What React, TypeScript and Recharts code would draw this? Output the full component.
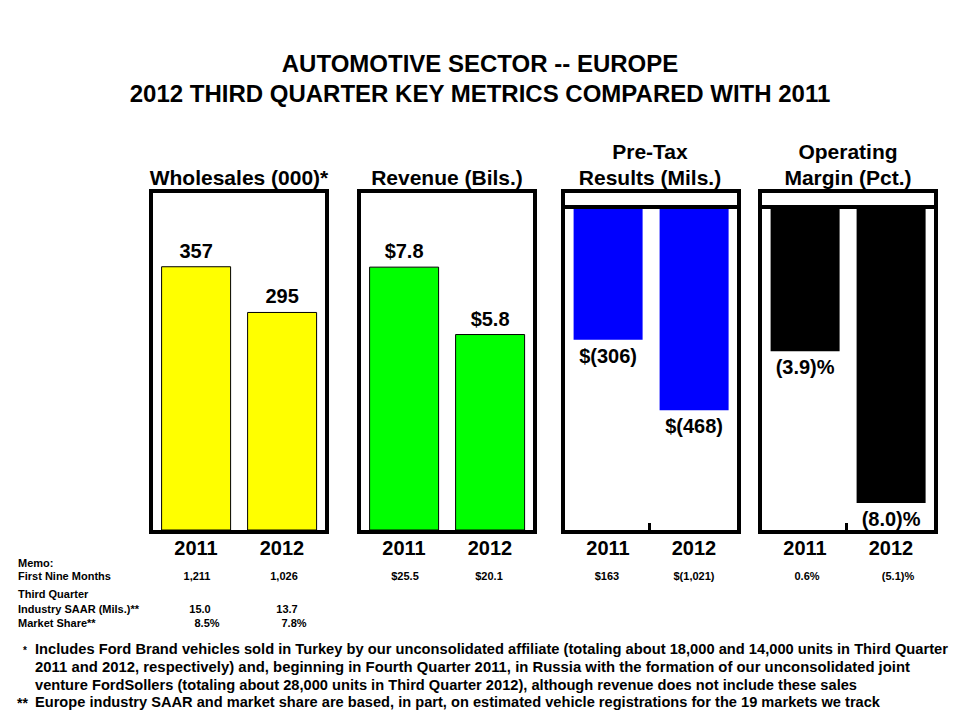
import React from "react";
import { BarChart, Bar, XAxis, YAxis, ReferenceLine, LabelList } from "recharts";

const years = ["2011", "2012"];
const wholesales = [357, 295];
const revenue = [7.8, 5.8];
const pretax = [-306, -468];
const opMargin = [-3.9, -8.0];

const nineMonths = ["1,211", "1,026", "$25.5", "$20.1", "$163", "$(1,021)", "0.6%", "(5.1)%"];
const saar = ["15.0", "13.7"];
const share = ["8.5%", "7.8%"];

const footnotes = [
  "Includes Ford Brand vehicles sold in Turkey by our unconsolidated affiliate (totaling about 18,000 and 14,000 units in Third Quarter",
  "2011 and 2012, respectively) and, beginning in Fourth Quarter 2011, in Russia with the formation of our unconsolidated joint",
  "venture FordSollers (totaling about 28,000 units in Third Quarter 2012), although revenue does not include these sales",
  "Europe industry SAAR  and market share are based, in part, on estimated vehicle registrations for the 19 markets we track",
];
const footWidths = [913, 875, 822, 845];

const FONT = "'Liberation Sans', Arial, Helvetica, sans-serif";
const NARROW = "'Liberation Sans Narrow', 'Arial Narrow', 'Liberation Sans', sans-serif";
const SQUEEZE = 0.75;

type PanelProps = {
  left: number;
  values: number[];
  color: string;
  outline: boolean;
  domain: [number, number];
  fmt: (v: number) => string;
  negative?: boolean;
};

const makeLabel = (fmt: (v: number) => string) => (props: any) => {
  const { x, y, width, height, value } = props;
  const v = Number(value);
  const top = Math.min(y, y + height);
  const bottom = Math.max(y, y + height);
  const cx = x + width / 2;
  const ty = v >= 0 ? top - 9 : bottom + 23;
  return (
    <text x={cx} y={ty} textAnchor="middle" fontSize={20} fontWeight="bold" fill="#000" fontFamily={FONT}>
      {fmt(v)}
    </text>
  );
};

function Panel({ left, values, color, outline, domain, fmt, negative }: PanelProps) {
  const data = years.map((year, i) => ({ year, value: values[i] }));
  return (
    <div style={{ position: "absolute", left, top: 189, width: 180, height: 385 }}>
      <BarChart
        width={180}
        height={385}
        data={data}
        margin={{ top: 4, right: 4, bottom: 0, left: 4 }}
        barCategoryGap="10%"
      >
        <XAxis
          dataKey="year"
          axisLine={false}
          tickLine={false}
          height={44}
          interval={0}
          dy={3}
          tick={{ fontSize: 20, fontWeight: "bold", fill: "#000", fontFamily: FONT }}
        />
        <YAxis hide domain={domain} />
        <Bar
          dataKey="value"
          fill={color}
          stroke={outline ? "#000" : "none"}
          strokeWidth={1}
          isAnimationActive={false}
        >
          <LabelList dataKey="value" content={makeLabel(fmt)} />
        </Bar>
        {negative && <ReferenceLine y={0} stroke="#000" strokeWidth={4} />}
      </BarChart>
      <div
        style={{
          position: "absolute",
          left: 0,
          top: 0,
          width: 180,
          height: 345,
          boxSizing: "border-box",
          border: "4px solid #000",
          pointerEvents: "none",
        }}
      />
      {negative && (
        <div style={{ position: "absolute", left: 87, top: 334, width: 3, height: 8, background: "#000" }} />
      )}
    </div>
  );
}

const memoX = [197, 284, 405, 489, 607, 694, 807, 898];

export default function App() {
  return (
    <div style={{ position: "absolute", left: 0, top: 0, width: 960, height: 720, background: "#fff", fontFamily: FONT }}>
      <svg width={960} height={720} style={{ position: "absolute", left: 0, top: 0 }}>
        <g fontFamily={FONT} fontWeight="bold" fill="#000">
          <text x={480} y={72} textAnchor="middle" fontSize={24}>AUTOMOTIVE SECTOR -- EUROPE</text>
          <text x={480} y={102} textAnchor="middle" fontSize={24}>2012 THIRD QUARTER KEY METRICS COMPARED WITH 2011</text>

          <text x={239} y={185} textAnchor="middle" fontSize={21}>Wholesales (000)*</text>
          <text x={447} y={185} textAnchor="middle" fontSize={21}>Revenue (Bils.)</text>
          <text x={650} y={159} textAnchor="middle" fontSize={21}>Pre-Tax</text>
          <text x={650} y={185} textAnchor="middle" fontSize={21}>Results (Mils.)</text>
          <text x={848} y={159} textAnchor="middle" fontSize={21}>Operating</text>
          <text x={848} y={185} textAnchor="middle" fontSize={21}>Margin (Pct.)</text>

          <g fontSize={11}>
            <text x={18} y={567}>Memo:</text>
            <text x={18} y={580}>First Nine Months</text>
            {nineMonths.map((t, i) => (
              <text key={t} x={memoX[i]} y={580} textAnchor="middle">{t}</text>
            ))}
            <text x={18} y={598}>Third Quarter</text>
            <text x={18} y={613}>Industry SAAR (Mils.)**</text>
            <text x={200} y={613} textAnchor="middle">{saar[0]}</text>
            <text x={287} y={613} textAnchor="middle">{saar[1]}</text>
            <text x={18} y={627}>Market Share**</text>
            <text x={207} y={627} textAnchor="middle">{share[0]}</text>
            <text x={294} y={627} textAnchor="middle">{share[1]}</text>
          </g>

          <text x={23} y={654} fontSize={10}>*</text>
          <text x={17} y={708} fontSize={14}>**</text>
          <g fontFamily={NARROW} fontSize={15} transform={`translate(35,0) scale(${SQUEEZE},1)`}>
            {footnotes.map((t, i) => (
              <text
                key={i}
                x={0}
                y={654 + i * 18 - (i === 3 ? 1 : 0)}
                textLength={footWidths[i] / SQUEEZE}
                lengthAdjust="spacingAndGlyphs"
              >
                {t}
              </text>
            ))}
          </g>
        </g>
      </svg>

      <Panel left={149} values={wholesales} color="#FFFF00" outline domain={[0, 457]} fmt={(v) => `${v}`} />
      <Panel left={357} values={revenue} color="#00FF00" outline domain={[0, 10]} fmt={(v) => `$${v.toFixed(1)}`} />
      <Panel
        left={561}
        values={pretax}
        color="#0000FF"
        outline={false}
        domain={[-744, 32]}
        fmt={(v) => `$(${Math.abs(v)})`}
        negative
      />
      <Panel
        left={758}
        values={opMargin}
        color="#000000"
        outline={false}
        domain={[-8.73, 0.38]}
        fmt={(v) => `(${Math.abs(v).toFixed(1)})%`}
        negative
      />
    </div>
  );
}
